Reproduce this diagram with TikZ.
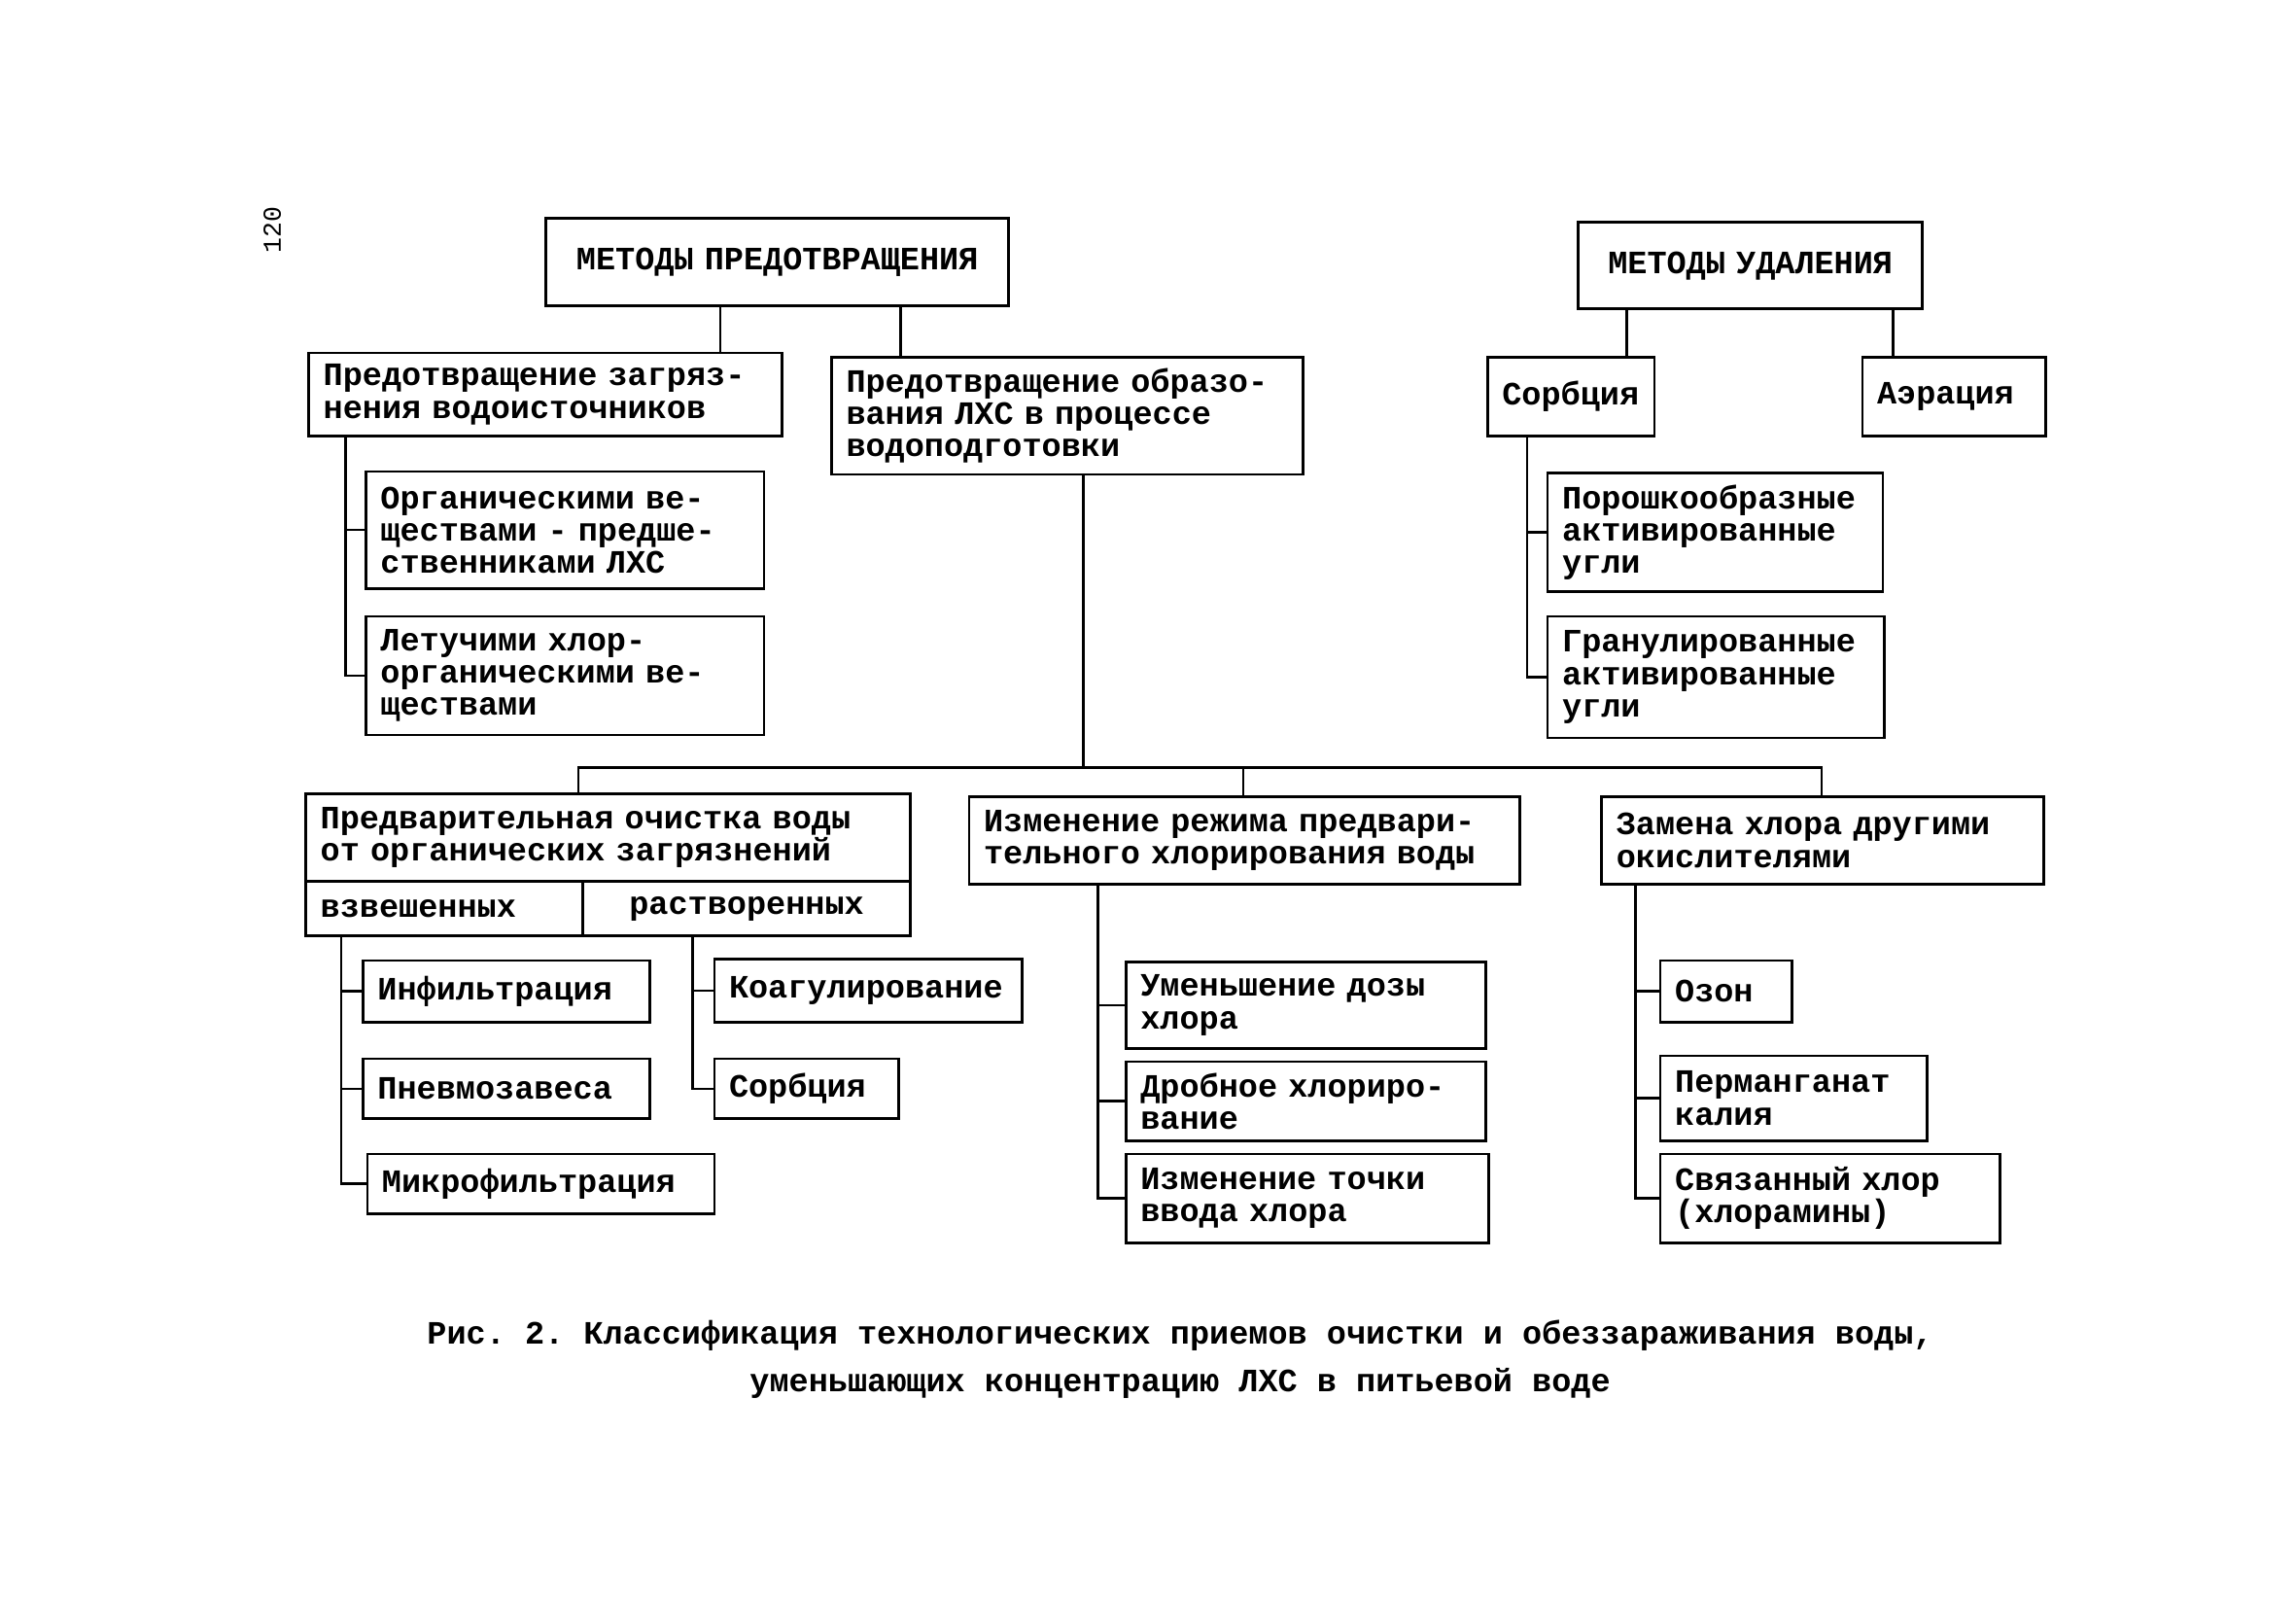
\documentclass[tikz,border=0pt]{standalone}
\usepackage{fontspec}
\setmonofont{Liberation Mono}
\usepackage{tikz}

\tikzset{
  box/.style 2 args={draw, line width=1.5pt, anchor=north west, align=left,
    inner xsep=3mm, inner ysep=1pt, minimum width=#1*0.3mm,
    minimum height=#2*0.3mm, text width=#1*0.3mm-6mm},
  head/.style 2 args={box={#1}{#2}, align=center},
}

\begin{document}
\begin{tikzpicture}[x=0.3mm, y=-0.3mm, line width=1.5pt,
  font=\ttfamily\bfseries\fontsize{19}{18.8}\selectfont]
\path[use as bounding box, fill=white] (0,0) rectangle (1568,1098);
\node[rotate=90, font=\ttfamily\fontsize{15}{15}\selectfont] (pn) at (186,157) {120};

\node[head={316}{60}] (m1) at (372,148) {МЕТОДЫ ПРЕДОТВРАЩЕНИЯ};
\node[head={235}{59}] (m2) at (1077,151) {МЕТОДЫ УДАЛЕНИЯ};

\node[box={323}{57}] (p1) at (210,240) {Предотвращение загряз-\\нения водоисточников};
\node[box={322}{80}] (p2) at (567,243) {Предотвращение образо-\\вания ЛХС в процессе\\водоподготовки};
\node[box={114}{54}] (s0) at (1015,243) {Сорбция};
\node[box={125}{54}] (ae) at (1271,243) {Аэрация};

\node[box={272}{80}] (a1) at (249,321) {Органическими ве-\\ществами - предше-\\ственниками ЛХС};
\node[box={272}{81}] (a2) at (249,420) {Летучими хлор-\\органическими ве-\\ществами};
\node[box={229}{81}] (u1) at (1056,322) {Порошкообразные\\активированные\\угли};
\node[box={230}{83}] (u2) at (1056,420) {Гранулированные\\активированные\\угли};

\node[box={413}{60}] (c0) at (208,541) {Предварительная очистка воды\\от органических загрязнений};
\node[box={189}{37}] (cl) at (208,601) {взвешенных};
\node[head={224}{37}] (cr) at (397,601) {растворенных};
\node[box={196}{42}] (c1) at (247,655) {Инфильтрация};
\node[box={196}{41}] (c2) at (247,722) {Пневмозавеса};
\node[box={237}{41}] (c3) at (250,787) {Микрофильтрация};
\node[box={210}{43}] (c4) at (487,654) {Коагулирование};
\node[box={126}{41}] (c5) at (487,722) {Сорбция};

\node[box={376}{60}] (d0) at (661,543) {Изменение режима предвари-\\тельного хлорирования воды};
\node[box={246}{59}] (d1) at (768,656) {Уменьшение дозы\\хлора};
\node[box={246}{54}] (d2) at (768,724) {Дробное хлориро-\\вание};
\node[box={248}{61}] (d3) at (768,787) {Изменение точки\\ввода хлора};

\node[box={302}{60}] (e0) at (1093,543) {Замена хлора другими\\окислителями};
\node[box={90}{42}] (e1) at (1133,655) {Озон};
\node[box={182}{58}] (e2) at (1133,720) {Перманганат\\калия};
\node[box={232}{61}] (e3) at (1133,787) {Связанный хлор\\(хлорамины)};

\draw (m1.south -| 492,0) -- (p1.north -| 492,0);
\draw (m1.south -| 615,0) -- (p2.north -| 615,0);
\draw (m2.south -| 1111,0) -- (s0.north -| 1111,0);
\draw (m2.south -| 1293,0) -- (ae.north -| 1293,0);

\draw (p1.south -| 236,0) |- (a2.west);
\draw (a1.west) -- (a1.west -| 236,0);
\draw (s0.south -| 1043,0) |- (u2.west);
\draw (u1.west) -- (u1.west -| 1043,0);

\coordinate (bus) at (740,524);
\draw (p2.south -| bus) -- (bus);
\draw (c0.north -| 395,0) |- (bus) -| (e0.north -| 1244,0);
\draw (d0.north -| 849,0) -- (bus -| 849,0);

\draw (cl.south -| 233,0) |- (c3.west);
\draw (c1.west) -- (c1.west -| 233,0);
\draw (c2.west) -- (c2.west -| 233,0);
\draw (cr.south -| 473,0) |- (c5.west);
\draw (c4.west) -- (c4.west -| 473,0);

\draw (d0.south -| 750,0) |- (d3.west);
\draw (d1.west) -- (d1.west -| 750,0);
\draw (d2.west) -- (d2.west -| 750,0);
\draw (e0.south -| 1117,0) |- (e3.west);
\draw (e1.west) -- (e1.west -| 1117,0);
\draw (e2.west) -- (e2.west -| 1117,0);

\node[align=center, font=\ttfamily\bfseries\fontsize{19}{28}\selectfont] (cap) at (806,928)
  {Рис. 2. Классификация технологических приемов очистки и обеззараживания воды,\\уменьшающих концентрацию ЛХС в питьевой воде};
\end{tikzpicture}
\end{document}
